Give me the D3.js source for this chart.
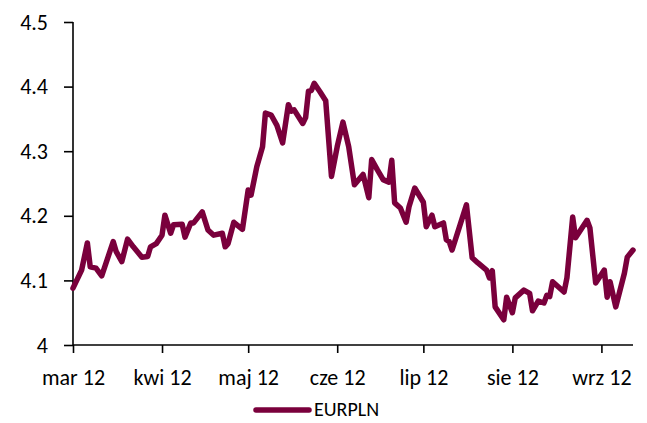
<!DOCTYPE html>
<html><head><meta charset="utf-8">
<script src="https://cdn.jsdelivr.net/npm/d3@7"></script>
<style>body{margin:0;background:#fff}svg{display:block}text{font-family:Carlito,Lato,"Liberation Sans",sans-serif;fill:#000}</style>
</head><body>
<svg id="c" width="647" height="423"></svg>
<script>
const dates = ["2012-03-01","2012-03-04","2012-03-06","2012-03-07","2012-03-09","2012-03-11","2012-03-15","2012-03-16","2012-03-18","2012-03-20","2012-03-22","2012-03-25","2012-03-27","2012-03-28","2012-03-30",
"2012-04-01","2012-04-02","2012-04-04","2012-04-05","2012-04-08","2012-04-09","2012-04-11","2012-04-12","2012-04-15","2012-04-17","2012-04-19","2012-04-22","2012-04-23","2012-04-24","2012-04-26","2012-04-29",
"2012-05-01","2012-05-02","2012-05-04","2012-05-06","2012-05-07","2012-05-09","2012-05-11","2012-05-13","2012-05-15","2012-05-16","2012-05-17","2012-05-20","2012-05-21","2012-05-22","2012-05-23","2012-05-24","2012-05-26","2012-05-28","2012-05-30",
"2012-06-01","2012-06-03","2012-06-05","2012-06-07","2012-06-10","2012-06-12","2012-06-13","2012-06-15","2012-06-17","2012-06-19","2012-06-20","2012-06-21","2012-06-23","2012-06-25","2012-06-26","2012-06-28",
"2012-07-01","2012-07-02","2012-07-04","2012-07-05","2012-07-08","2012-07-09","2012-07-10","2012-07-11","2012-07-16","2012-07-18","2012-07-20","2012-07-23","2012-07-24","2012-07-25","2012-07-26","2012-07-29","2012-07-30",
"2012-08-01","2012-08-02","2012-08-05","2012-08-07","2012-08-08","2012-08-10","2012-08-12","2012-08-13","2012-08-14","2012-08-15","2012-08-19","2012-08-20","2012-08-22","2012-08-23","2012-08-27","2012-08-28","2012-08-30",
"2012-09-02","2012-09-03","2012-09-04","2012-09-06","2012-09-09","2012-09-10","2012-09-12"];
const eurpln = [4.088,4.116,4.158,4.121,4.119,4.107,4.160,4.145,4.129,4.164,4.152,4.136,4.137,4.152,4.157,
4.170,4.201,4.173,4.186,4.187,4.167,4.189,4.189,4.206,4.178,4.170,4.173,4.152,4.157,4.190,4.179,
4.240,4.232,4.276,4.307,4.359,4.356,4.340,4.313,4.372,4.362,4.364,4.343,4.352,4.393,4.394,4.405,4.392,4.378,4.261,
4.307,4.345,4.307,4.248,4.264,4.228,4.287,4.271,4.256,4.252,4.286,4.220,4.212,4.190,4.214,4.243,
4.221,4.183,4.201,4.183,4.189,4.163,4.160,4.147,4.217,4.135,4.127,4.116,4.104,4.115,4.059,4.039,4.074,
4.050,4.073,4.085,4.080,4.053,4.068,4.065,4.077,4.075,4.098,4.082,4.104,4.198,4.166,4.193,4.181,4.096,
4.116,4.074,4.098,4.059,4.111,4.136,4.147];
const yTicks = [4, 4.1, 4.2, 4.3, 4.4, 4.5];
const monthLabels = ["mar 12","kwi 12","maj 12","cze 12","lip 12","sie 12","wrz 12"];
const seriesName = "EURPLN";

const parse = d3.timeParse("%Y-%m-%d");
const data = dates.map((d,i)=>({date:parse(d), v:eurpln[i]}));
const svg = d3.select("#c");
const color = "#7a003c";
const font = 'Carlito,Lato,"Liberation Sans",sans-serif';

const x = d3.scaleTime().domain([parse("2012-03-01"), parse("2012-09-12")]).range([73, 633]);
const y = d3.scaleLinear().domain([4, 4.5]).range([345, 22]);

const monthTicks = d3.timeMonth.range(parse("2012-03-01"), parse("2012-09-02"));

const xAxis = svg.append("g").attr("transform","translate(0,345)")
  .call(d3.axisBottom(x).tickValues(monthTicks).tickSize(8).tickPadding(16)
    .tickFormat((d,i)=>monthLabels[i]));
const yAxis = svg.append("g").attr("transform","translate(73,0)")
  .call(d3.axisLeft(y).tickValues(yTicks).tickSize(9).tickPadding(16)
    .tickFormat(d=>d===4?"4":d3.format(".1f")(d)));
[xAxis,yAxis].forEach(g=>{
  g.select(".domain").attr("stroke","#000").attr("stroke-width",1.6);
  g.selectAll(".tick line").attr("stroke","#000").attr("stroke-width",1.6);
  g.selectAll(".tick text").attr("font-size",22).attr("fill","#000").attr("font-family",font);
});
xAxis.select(".domain").attr("d","M73,0H633");
yAxis.select(".domain").attr("d","M0,22V345");
xAxis.selectAll(".tick text").attr("dy","0.71em");

svg.append("path").datum(data)
  .attr("fill","none").attr("stroke",color).attr("stroke-width",5.5)
  .attr("stroke-linejoin","round").attr("stroke-linecap","round")
  .attr("d", d3.line().x(d=>x(d.date)).y(d=>y(d.v)));

const lg = svg.append("g");
lg.append("line").attr("x1",256).attr("x2",309).attr("y1",410).attr("y2",410)
  .attr("stroke",color).attr("stroke-width",5.5).attr("stroke-linecap","round");
lg.append("text").attr("x",314).attr("y",416).attr("font-size",20).attr("font-family",font).text(seriesName);
</script>
</body></html>
